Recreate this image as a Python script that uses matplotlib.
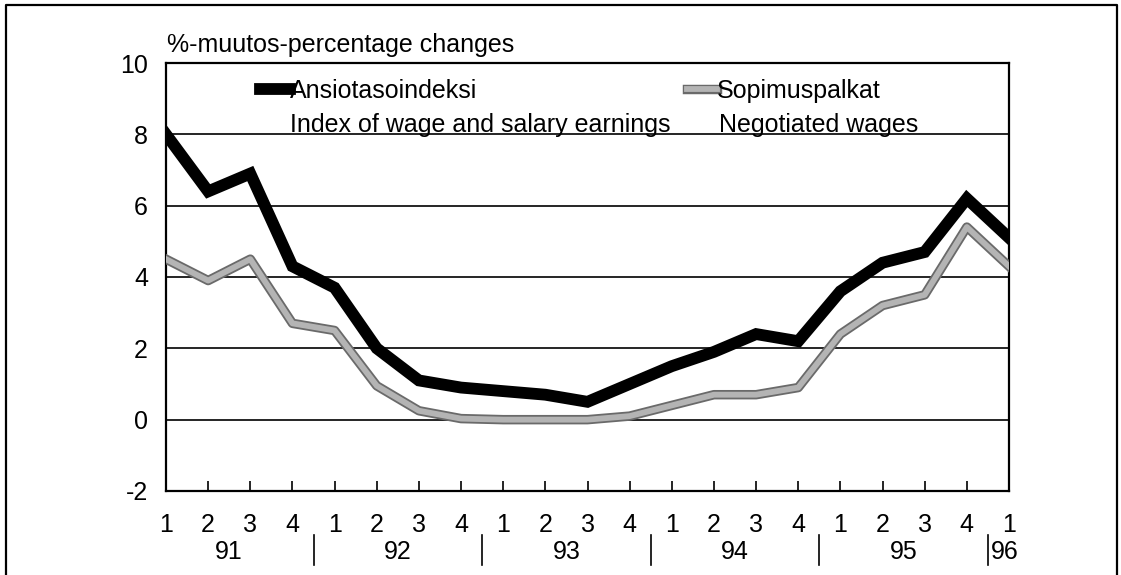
import matplotlib.pyplot as plt
from matplotlib.lines import Line2D
import matplotlib.transforms as mtransforms

plt.rcParams['font.family'] = ['Liberation Sans', 'DejaVu Sans']

# neljännesvuosittaiset muutokset 1991Q1 - 1996Q1
quarters = ['1', '2', '3', '4'] * 5 + ['1']
years = ['91', '92', '93', '94', '95']
ansiotaso = [8.0, 6.4, 6.9, 4.3,
             3.7, 2.0, 1.1, 0.9,
             0.8, 0.7, 0.5, 1.0,
             1.5, 1.9, 2.4, 2.2,
             3.6, 4.4, 4.7, 6.2,
             5.1]
sopimus = [4.5, 3.9, 4.5, 2.7,
           2.5, 0.95, 0.25, 0.03,
           0.0, 0.0, 0.0, 0.1,
           0.4, 0.7, 0.7, 0.9,
           2.4, 3.2, 3.5, 5.4,
           4.3]
yticks = [-2, 0, 2, 4, 6, 8, 10]

FS = 18
W, H = 1121, 575
fig = plt.figure(figsize=(W / 100, H / 100), dpi=100)
ax = fig.add_axes([166 / W, 1 - 491 / H, (1009 - 166) / W, (491 - 63) / H])

x = list(range(len(quarters)))

ax.set_ylim(-2, 10)
ax.set_xlim(0, len(quarters) - 1)
ax.set_yticks(yticks)
ax.set_yticklabels([str(v) for v in yticks])
ax.set_xticks(x)
ax.set_xticklabels(quarters)
ax.tick_params(axis='y', length=0, pad=13, labelsize=FS)
ax.tick_params(axis='x', direction='in', length=7, width=1.2, pad=16, labelsize=FS)
for s in ax.spines.values():
    s.set_linewidth(1.6)
for v in yticks[1:-1]:
    ax.axhline(v, color='black', lw=1.2, zorder=1)

# viivat
blk, = ax.plot(x, ansiotaso, color='black', lw=8.5, solid_joinstyle='miter', zorder=4)
g1, = ax.plot(x, sopimus, color='#6a6a6a', lw=6.8, zorder=3)
g2, = ax.plot(x, sopimus, color='#b4b4b4', lw=4.2, zorder=3)

# vuodet ja erottimet
trans = mtransforms.blended_transform_factory(ax.transData, ax.transAxes)
for i, yr in enumerate(years):
    ax.text(i * 4 + 1.5, -0.143, yr, transform=trans, ha='center', va='center', fontsize=FS)
    ax.plot([i * 4 + 3.5, i * 4 + 3.5], [-0.103, -0.173], transform=trans,
            color='black', lw=1.2, clip_on=False)
ax.text(19.5 + 0.08, -0.143, '96', transform=trans, ha='left', va='center', fontsize=FS)

# otsikko
fig.text(167 / W, 1 - 45 / H, '%-muutos-percentage changes', ha='left', va='center', fontsize=FS)

# selite
leg = fig.legend([blk, (g1, g2)], ['Ansiotasoindeksi', 'Sopimuspalkat'],
                 loc='center left', bbox_to_anchor=(260 / W, 1 - 91 / H),
                 ncol=2, frameon=False, fontsize=FS, handlelength=1.2,
                 handletextpad=0.0, columnspacing=8.4, borderpad=0, borderaxespad=0)
fig.text(290 / W, 1 - 132 / H, 'Index of wage and salary earnings',
         ha='left', va='baseline', fontsize=FS)
fig.text(719 / W, 1 - 132 / H, 'Negotiated wages',
         ha='left', va='baseline', fontsize=FS)

# kehys
fig.add_artist(Line2D([6 / W, 6 / W, 1117 / W, 1117 / W], [0, 1 - 5 / H, 1 - 5 / H, 0],
                      transform=fig.transFigure, color='black', lw=1.6))

fig.savefig('out.png', dpi=100)
